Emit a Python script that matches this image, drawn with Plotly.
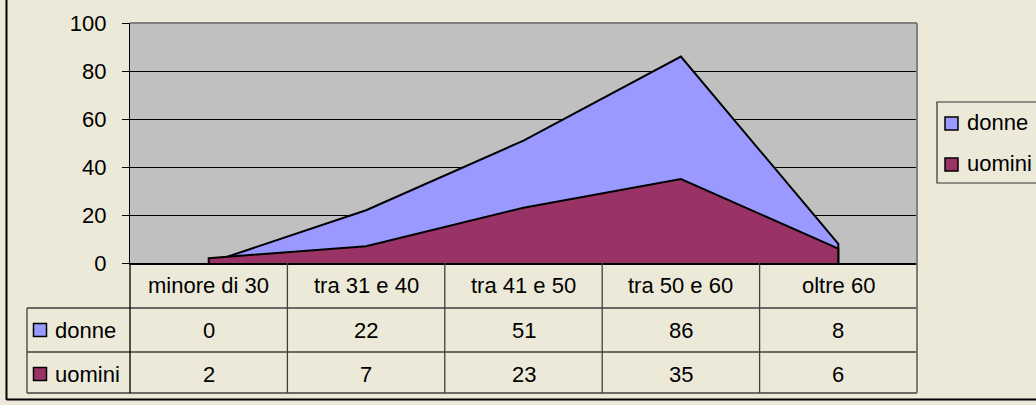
import plotly.graph_objects as go

categories = ["minore di 30", "tra 31 e 40", "tra 41 e 50", "tra 50 e 60", "oltre 60"]
donne = [0, 22, 51, 86, 8]
uomini = [2, 7, 23, 35, 6]
series_names = ["donne", "uomini"]
series_colors = ["#9999FF", "#993366"]
y_ticks = [0, 20, 40, 60, 80, 100]

W, H = 1036, 405
L, R, T, B = 130, 917, 23, 263
BG = "#ECE9D8"
FONT = "Liberation Sans, Arial, sans-serif"
FS = 22


def px(x):
    return (x - L) / (R - L)


def py(y):
    return (B - y) / (B - T)


fig = go.Figure()
n = len(categories)
idx = list(range(n))
for name, vals, col in zip(series_names, [donne, uomini], series_colors):
    fig.add_trace(go.Scatter(
        x=[idx[0]] + idx + [idx[-1]],
        y=[0] + vals + [0],
        fill="toself", fillcolor=col, mode="lines",
        line=dict(color="black", width=2),
        name=name, showlegend=False, hoverinfo="skip",
    ))

shapes = []
annotations = []
row_centers = [285, 330, 374]
TL = "#404040"
for yl in [308, 352, 393]:
    shapes.append(dict(type="line", xref="paper", yref="paper", x0=px(27), x1=px(R), y0=py(yl), y1=py(yl),
                       line=dict(color=TL, width=1.3)))
shapes.append(dict(type="line", xref="paper", yref="paper", x0=px(27), x1=px(27), y0=py(308), y1=py(393),
                   line=dict(color=TL, width=1.3)))
shapes.append(dict(type="line", xref="paper", yref="paper", x0=0, x1=0, y0=py(263), y1=py(393),
                   line=dict(color="black", width=1.3)))
for k in range(1, n):
    shapes.append(dict(type="line", xref="x", yref="paper", x0=k - 0.5, x1=k - 0.5, y0=py(263), y1=py(393),
                       line=dict(color=TL, width=1.3)))
shapes.append(dict(type="line", xref="paper", yref="paper", x0=1, x1=1, y0=py(263), y1=py(393),
                   line=dict(color="#707070", width=1.8)))
shapes.append(dict(type="line", xref="paper", yref="paper", x0=0, x1=1, y0=1, y1=1, line=dict(color="#808080", width=2)))
shapes.append(dict(type="line", xref="paper", yref="paper", x0=1, x1=1, y0=0, y1=1, line=dict(color="#808080", width=2)))
shapes.append(dict(type="line", xref="paper", yref="paper", x0=px(6.5), x1=px(6.5), y0=py(-5), y1=py(400),
                   line=dict(color="black", width=2)))
shapes.append(dict(type="line", xref="paper", yref="paper", x0=px(6.5), x1=px(1040), y0=py(399.5), y1=py(399.5),
                   line=dict(color="black", width=2)))

for i, c in enumerate(categories):
    annotations.append(dict(x=i, y=py(row_centers[0]), xref="x", yref="paper", text=c, showarrow=False,
                            font=dict(family=FONT, size=FS, color="black"), xanchor="center", yanchor="middle"))
for r, (name, vals, col) in enumerate(zip(series_names, [donne, uomini], series_colors)):
    yc = row_centers[r + 1]
    for i, v in enumerate(vals):
        annotations.append(dict(x=i, y=py(yc), xref="x", yref="paper", text=str(v), showarrow=False,
                                font=dict(family=FONT, size=FS, color="black"), xanchor="center", yanchor="middle"))
    shapes.append(dict(type="rect", xref="paper", yref="paper", x0=px(33.5), x1=px(46.5), y0=py(yc - 6.5),
                       y1=py(yc + 6.5), fillcolor=col, line=dict(color="black", width=1.5)))
    annotations.append(dict(x=px(53), y=py(yc), xref="paper", yref="paper", text=name, showarrow=False,
                            font=dict(family=FONT, size=FS, color="black"), xanchor="left", yanchor="middle"))

shapes.append(dict(type="rect", xref="paper", yref="paper", x0=px(937), x1=px(1045), y0=py(102), y1=py(183),
                   fillcolor=BG, line=dict(color="#303030", width=1.2)))
for k, (name, col) in enumerate(zip(series_names, series_colors)):
    yc = [123.5, 164.5][k]
    shapes.append(dict(type="rect", xref="paper", yref="paper", x0=px(945), x1=px(958), y0=py(yc - 6.5),
                       y1=py(yc + 6.5), fillcolor=col, line=dict(color="black", width=1.5)))
    annotations.append(dict(x=px(965), y=py(yc - 1), xref="paper", yref="paper", text=name, showarrow=False,
                            font=dict(family=FONT, size=FS, color="black"), xanchor="left", yanchor="middle"))

fig.update_layout(
    width=W, height=H,
    margin=dict(l=L, r=W - R, t=T, b=H - B, pad=0),
    paper_bgcolor=BG, plot_bgcolor="#C0C0C0",
    showlegend=False,
    shapes=shapes, annotations=annotations,
    xaxis=dict(range=[-0.5, n - 0.5], showticklabels=False, showgrid=False, zeroline=False,
               showline=True, linecolor="black", linewidth=1.5, ticks="", fixedrange=True),
    yaxis=dict(range=[0, 100], tickvals=y_ticks, ticks="outside", ticklen=7, tickcolor="black", tickwidth=1,
               showgrid=True, gridcolor="black", gridwidth=1, zeroline=False,
               showline=True, linecolor="black", linewidth=1.2,
               tickfont=dict(family=FONT, size=FS, color="black"), ticklabelstandoff=11, fixedrange=True),
)
fig.write_html("out.html", config={"displayModeBar": False},
               post_script="document.body.style.margin='0';document.body.style.background='" + BG + "';")
